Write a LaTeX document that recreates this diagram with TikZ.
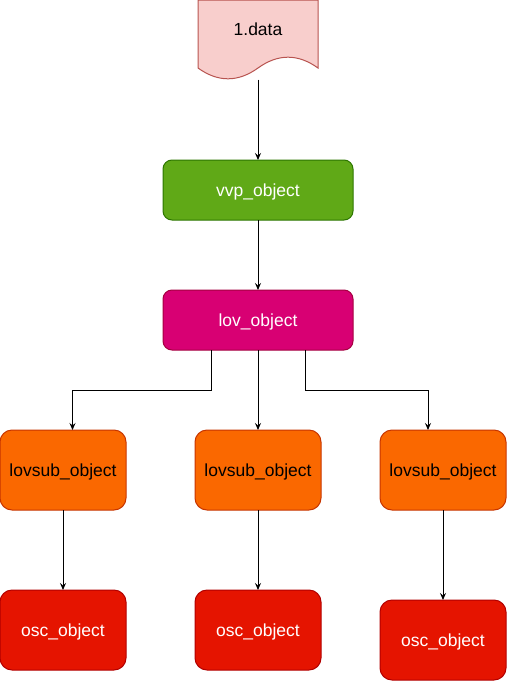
\documentclass[tikz,border=0pt]{standalone}
\usepackage{fontspec}
\setmainfont{Liberation Sans}
\usetikzlibrary{arrows.meta, positioning, calc}
\definecolor{inkcolor}{HTML}{000000}
\definecolor{datafill}{HTML}{F8CECC}
\definecolor{dataline}{HTML}{B85450}
\definecolor{vvpfill}{HTML}{60A917}
\definecolor{vvpline}{HTML}{2D7600}
\definecolor{lovfill}{HTML}{D80073}
\definecolor{lovline}{HTML}{A50040}
\definecolor{subfill}{HTML}{FA6800}
\definecolor{subline}{HTML}{C73500}
\definecolor{oscfill}{HTML}{E51400}
\definecolor{oscline}{HTML}{B20000}

\begin{document}
\begin{tikzpicture}[x=1pt, y=1pt, line width=1pt,
  every node/.style={font=\fontsize{17.5}{20}\selectfont, text depth=0pt}]

\tikzset{
  flowline/.style={-{Stealth[length=7pt, width=6pt, inset=2.5pt]}, inkcolor},
  objbox/.style={rectangle, rounded corners=9pt, outer sep=0pt,
    minimum width=190pt, minimum height=60pt, text=white},
  subbox/.style={rectangle, rounded corners=12pt, outer sep=0pt,
    minimum width=126pt, minimum height=80pt, draw=subline, fill=subfill, text=black},
  oscbox/.style={rectangle, rounded corners=12pt, outer sep=0pt,
    minimum width=126pt, minimum height=80pt, draw=oscline, fill=oscfill, text=white},
}

\useasboundingbox (0,0) rectangle (507,-681);

% ---- top: data document ----
\draw[draw=dataline, fill=datafill] (198,0) -- (318,0) -- (318,-68)
  .. controls (298,-53.6) and (278,-53.6) .. (258,-68)
  .. controls (238,-82.4) and (218,-82.4) .. (198,-68) -- cycle;
\node (data) at (258,-29) {1.data};
\coordinate (databottom) at (258,-79.5);

% ---- middle: vvp and lov ----
\node[objbox, draw=vvpline, fill=vvpfill] (vvp) at (258,-190) {vvp\_object};
\node[objbox, draw=lovline, fill=lovfill, below=70pt of vvp] (lov) {lov\_object};

% ---- bottom: lovsub and osc ----
\node[subbox, below=80pt of lov] (subB) {lovsub\_object};
\node[subbox, left=69pt of subB] (subA) {lovsub\_object};
\node[subbox, right=59pt of subB] (subC) {lovsub\_object};
\node[oscbox, below=80pt of subA] (oscA) {osc\_object};
\node[oscbox, below=80pt of subB] (oscB) {osc\_object};
\node[oscbox, below=90pt of subC] (oscC) {osc\_object};

\draw[flowline] (databottom) -- (vvp);
\draw[flowline] (vvp) -- (lov);
\draw[flowline] ([xshift=-47pt]lov.south) -- ++(0,-40) -| ([xshift=9.5pt]subA.north);
\draw[flowline] (lov) -- (subB);
\draw[flowline] ([xshift=47pt]lov.south) -- ++(0,-40) -| ([xshift=-15pt]subC.north);
\draw[flowline] (subA) -- (oscA);
\draw[flowline] (subB) -- (oscB);
\draw[flowline] (subC) -- (oscC);

\end{tikzpicture}
\end{document}
